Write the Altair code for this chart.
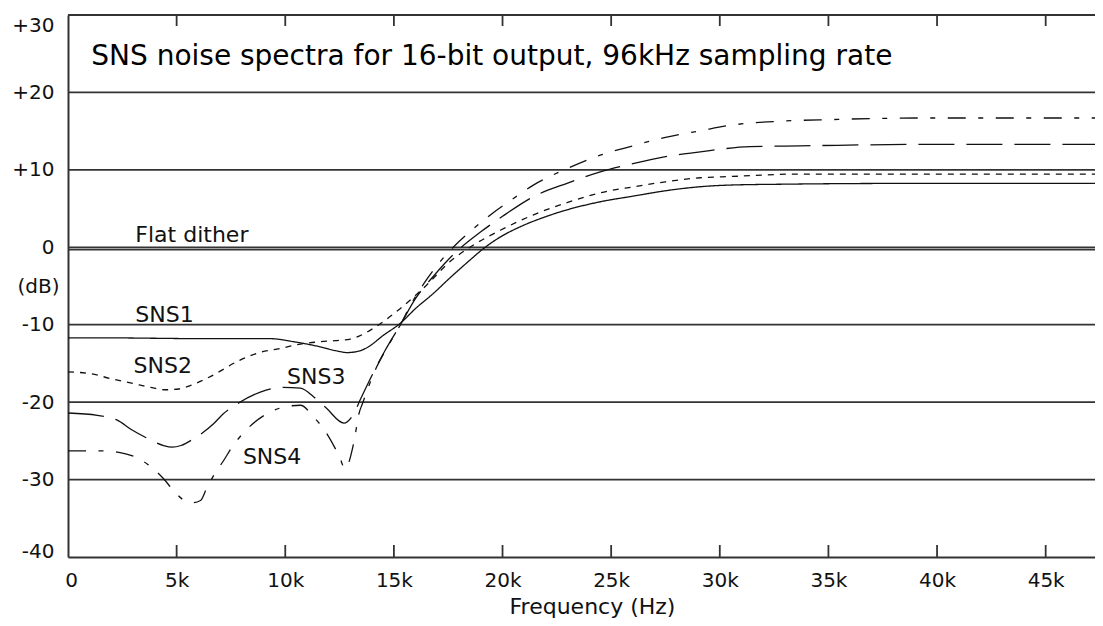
import altair as alt
import pandas as pd

# ---------------- data ----------------
freq_sns1 = [0, 2000, 4000, 6000, 8000, 9300, 10400, 11600, 12400, 12850, 13400, 13800, 14500, 15300,
             16000, 16800, 17600, 18400, 19200, 20000, 20700, 22200, 24500, 26000, 27500, 29100, 30400,
             33000, 38700, 47270]
db_sns1 = [-11.7, -11.7, -11.75, -11.8, -11.8, -11.8, -12.2, -12.85, -13.4, -13.6, -13.4, -12.9, -11.4, -9.8,
           -7.9, -6.0, -3.9, -1.9, 0.0, 1.5, 2.5, 4.16, 5.88, 6.6, 7.3, 7.82, 8.03,
           8.15, 8.25, 8.25]

freq_sns2 = [0, 1000, 1950, 3000, 3800, 4500, 5100, 5600, 6550, 7900, 8800, 9770, 10700, 11600, 12300,
             13000, 13600, 14200, 15300, 16500, 17600, 18500, 19900, 21400, 23000, 24500, 26000, 27500,
             29100, 30600, 33500, 47270]
db_sns2 = [-16.1, -16.3, -16.95, -17.6, -18.1, -18.4, -18.3, -17.9, -16.7, -14.6, -13.6, -13.07, -12.5, -12.2,
           -12.05, -11.85, -11.2, -10.2, -7.9, -4.9, -1.8, 0.0, 2.2, 4.16, 5.8, 7.04, 7.8, 8.45,
           8.98, 9.15, 9.45, 9.45]

freq_sns3 = [0, 1350, 2250, 2950, 3600, 4400, 4800, 5200, 5800, 6700, 7150, 7800, 8850, 9800, 10700,
             11300, 11900, 12700, 13150, 13450, 14000, 14600, 15300, 16000, 16800, 17500, 18100, 19000,
             20000, 21400, 23000, 24500, 26000, 27500, 29100, 31400, 33700, 39800, 47270]
db_sns3 = [-21.4, -21.7, -22.3, -23.6, -24.6, -25.6, -25.8, -25.6, -24.7, -22.8, -21.5, -20.2, -18.7, -18.1,
           -18.2, -19.3, -20.8, -22.7, -21.5, -19.7, -16.5, -13.3, -10.0, -6.6, -3.8, -1.6, 0.0, 2.0,
           4.0, 6.5, 8.3, 9.75, 10.8, 11.7, 12.33, 13.0, 13.1, 13.3, 13.3]

freq_sns4 = [0, 1600, 2700, 3700, 4400, 4850, 5300, 5700, 6100, 6400, 6700, 7150, 7600, 8200, 9150, 10200,
             10700, 11300, 11900, 12500, 12750, 13150, 13400, 13550, 14200, 14700, 15300, 15800, 16400,
             17000, 17800, 18500, 19500, 20500, 21400, 23000, 24500, 26000, 27500, 29100, 30600, 32900,
             35200, 37500, 39800, 47270]
db_sns4 = [-26.3, -26.3, -26.7, -28.1, -29.9, -31.4, -32.6, -33.0, -32.7, -31.0, -29.5, -27.6, -25.6, -23.6,
           -21.5, -20.5, -20.4, -21.9, -24.0, -27.1, -28.6, -25.3, -21.4, -20.2, -15.5, -12.9, -10.0,
           -7.3, -4.6, -2.3, 0.2, 2.0, 4.3, 6.3, 8.0, 10.2, 11.9, 13.1, 14.2, 15.05, 15.8, 16.3,
           16.5, 16.65, 16.7, 16.7]

flat_freq = [0, 47270]
flat_db = [-0.3, -0.3]

series_names = ["SNS1", "SNS2", "SNS3", "SNS4"]
series_dash = [[1, 0], [6, 6], [36, 12], [18, 12.5, 5, 12.5]]

ann_text = ["Flat dither", "SNS1", "SNS2", "SNS3", "SNS4"]
ann_freq = [3100, 3100, 3020, 10080, 8050]
ann_db = [0.73, -9.63, -16.3, -17.6, -27.93]

title_text = ["SNS noise spectra for 16-bit output, 96kHz sampling rate"]
title_freq = [1070]
title_db = [23.54]

grid_db = [30, 20, 10, 0, -10, -20, -30]
x_ticks = [0, 5000, 10000, 15000, 20000, 25000, 30000, 35000, 40000, 45000]
inner_ticks = [5000, 10000, 15000, 20000, 25000, 30000, 35000, 40000, 45000]
y_ticks = [-40, -30, -20, -10, -5, 0, 10, 20, 30]

# ---------------- tables ----------------
rows = []
for name, fs, ds in zip(series_names, [freq_sns1, freq_sns2, freq_sns3, freq_sns4],
                        [db_sns1, db_sns2, db_sns3, db_sns4]):
    for i, (f, d) in enumerate(zip(fs, ds)):
        rows.append({"series": name, "f": f, "db": d, "i": i})
lines_df = pd.DataFrame(rows)
flat_df = pd.DataFrame({"f": flat_freq, "db": flat_db})
ann_df = pd.DataFrame({"text": ann_text, "f": ann_freq, "db": ann_db})
title_df = pd.DataFrame({"text": title_text, "f": title_freq, "db": title_db})
grid_df = pd.DataFrame({"db": grid_db})
ticks_df = pd.DataFrame({"f": inner_ticks})

FONT = "DejaVu Sans"
W, H = 1027, 542
xscale = alt.Scale(domain=[0, 47270], nice=False, zero=False)
yscale = alt.Scale(domain=[-40, 30], nice=False, zero=False)

x_axis = alt.Axis(
    values=x_ticks,
    labelExpr="datum.value == 0 ? '0' : (datum.value / 1000) + 'k'",
    grid=False, ticks=False, tickSize=0,
    labelPadding=29, labelBaseline="alphabetic", labelFlush=False,
    labelOffset={"condition": {"test": "datum.value == 0", "value": 3}, "value": 0},
    labelFont=FONT, labelFontSize=20, labelColor="#111",
    domainColor="#333", domainWidth=2,
    title="Frequency (Hz)", titleFont=FONT, titleFontSize=22, titleFontWeight="normal",
    titleColor="#111", titleX=524, titleY=56, titleBaseline="alphabetic", titleAlign="center",
)
y_axis = alt.Axis(
    values=y_ticks,
    labelExpr="datum.value == -5 ? '(dB)' : (datum.value > 0 ? '+' + datum.value : '' + datum.value)",
    grid=False, ticks=False, tickSize=0, labelFlush=False,
    labelPadding={"condition": {"test": "datum.value == -5", "value": 9}, "value": 14},
    labelBaseline={"condition": [{"test": "datum.value == 30", "value": "top"},
                                 {"test": "datum.value == -40", "value": "alphabetic"}],
                   "value": "middle"},
    labelFont=FONT, labelFontSize=20, labelColor="#111",
    domainColor="#333", domainWidth=2, title=None,
)

X = alt.X("f:Q", scale=xscale, axis=x_axis, title="Frequency (Hz)")
Y = alt.Y("db:Q", scale=yscale, axis=y_axis, title=None)

grid = alt.Chart(grid_df).mark_rule(color="#333", strokeWidth=1.8).encode(
    y=Y, x=alt.value(0), x2=alt.value(W),
)
ticks_top = alt.Chart(ticks_df).mark_rule(color="#333", strokeWidth=1.8).encode(
    x=X, y=alt.value(0), y2=alt.value(11),
)
ticks_bottom = alt.Chart(ticks_df).mark_rule(color="#333", strokeWidth=1.8).encode(
    x=X, y=alt.value(H - 12), y2=alt.value(H),
)
flat = alt.Chart(flat_df).mark_line(color="#333", strokeWidth=1.6, clip=True).encode(
    x=X, y=Y,
)
lines = alt.Chart(lines_df).mark_line(color="#111", strokeWidth=1.3, interpolate="monotone", clip=True).encode(
    x=X, y=Y,
    detail="series:N",
    order="i:Q",
    strokeDash=alt.StrokeDash("series:N", scale=alt.Scale(domain=series_names, range=series_dash), legend=None),
)
labels = alt.Chart(ann_df).mark_text(font=FONT, fontSize=22, align="left", baseline="alphabetic", color="#111").encode(
    x=X, y=Y, text="text:N",
)
title = alt.Chart(title_df).mark_text(font=FONT, fontSize=28, align="left", baseline="alphabetic", color="#000").encode(
    x=X, y=Y, text="text:N",
)

chart = alt.layer(grid, ticks_top, ticks_bottom, flat, lines, labels, title).properties(
    width=W, height=H,
    autosize=alt.AutoSizeParams(type="none"),
    padding={"left": 60, "top": 7, "right": 0, "bottom": 61},
    background="white",
).configure_view(stroke=None)

chart.save("out.html", embed_options={"renderer": "svg", "actions": False})
